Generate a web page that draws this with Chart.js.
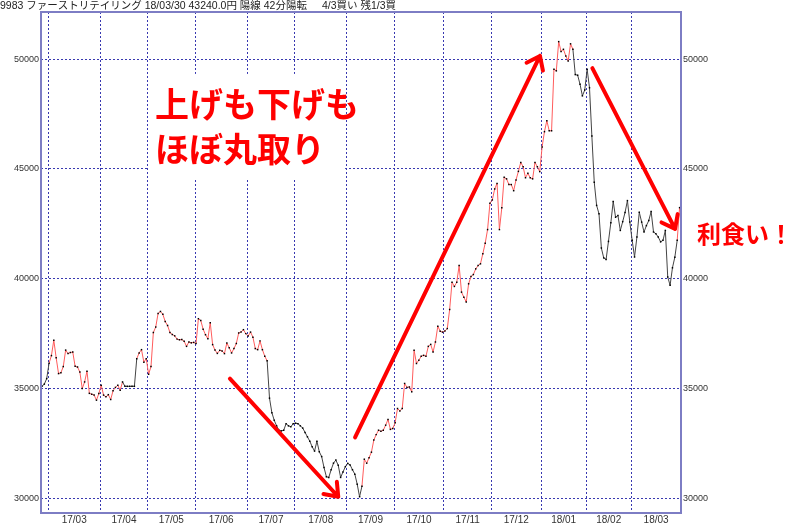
<!DOCTYPE html>
<html>
<head>
<meta charset="utf-8">
<script src="https://cdn.jsdelivr.net/npm/chart.js@4.4.1/dist/chart.umd.min.js"></script>
<style>
  html, body { margin: 0; padding: 0; background: #fff; }
</style>
</head>
<body>
<canvas id="chart" width="800" height="524"></canvas>
<script>
// daily closes, 2017/02/24 .. 2018/03/30 (one value per trading day)
const closes = [
  35100, 35200, 35450, 36150, 36500, 37200, 36400, 35680, 35720, 36000,
  36750, 36590, 36640, 36660, 36010, 35980, 35750, 35000, 35300, 35790,
  34780, 34740, 34700, 34470, 34770, 35150, 34700, 34620, 34720, 34500,
  34900, 35050, 35150, 34920, 35300, 35100, 35100, 35100, 35100, 35100,
  36360, 36620, 36770, 36200, 36360, 35650, 36000, 37550, 37800, 38420,
  38510, 38380, 38050, 37870, 37550, 37460, 37400, 37250, 37220, 37230,
  37150, 36920, 37120, 37080, 37100, 37050, 38180, 38100, 37700, 37450,
  37270, 38000, 37000, 36750, 36600, 36740, 36710, 36590, 37070, 36860,
  36620, 36820, 37050, 37530, 37570, 37680, 37500, 37390, 37570, 37340,
  36820, 36770, 37170, 36770, 36470, 36260, 34560, 33900, 33550, 33300,
  33100, 33070, 33100, 33400, 33300, 33260, 33400, 33420, 33400, 33300,
  33200, 33000, 32800, 32600, 32350, 32150, 32600, 32120, 31900, 31400,
  30980, 30950, 31300, 31600, 31740, 31500, 30950, 31200, 31440, 31590,
  31520, 31300, 31100, 30640, 30070, 30550, 31780, 31600, 31850, 32100,
  32650, 32900, 33100, 33050, 33100, 33330, 33590, 33140, 33180, 33440,
  34090, 33980, 34090, 35230, 35050, 35070, 34850, 36740, 36140, 36290,
  36470, 36510, 36470, 36920, 37010, 36660, 37120, 37840, 37610, 37570,
  37620, 37730, 38600, 39840, 39650, 39840, 40600, 39390, 39160, 38940,
  39770, 40100, 40190, 40450, 40600, 40680, 41140, 41620, 42240, 43440,
  43590, 44090, 44340, 42240, 43230, 44620, 44550, 44290, 44290, 44010,
  44500, 44890, 45300, 45100, 44600, 44800, 44600, 44550, 45300, 45100,
  44880, 46000, 46700, 47200, 46740, 46740, 49540, 49470, 50800, 50350,
  50450, 50150, 49920, 50700, 50450, 49300, 49270, 48860, 48330, 48600,
  49540, 48700, 46500, 44400, 43340, 42960, 41400, 40950, 40880, 41700,
  42550, 43520, 42800, 42880, 42200, 42600, 43020, 43560, 42580, 41750,
  40990, 41900, 43030, 42580, 42130, 42420, 42650, 43060, 42130, 42050,
  41900, 41680, 41750, 42200, 40080, 39700, 40500, 40980, 41750, 43240
];

// month labels and the index of each month's first trading day
const monthLabels = ['17/03', '17/04', '17/05', '17/06', '17/07', '17/08', '17/09',
  '17/10', '17/11', '17/12', '18/01', '18/02', '18/03'];
const monthStarts = [3, 25, 45, 65, 87, 107, 129, 149, 170, 190, 211, 230, 249];

// buy-signal stretches (segment start index ranges drawn in red)
const redRuns = [[3, 33], [40, 94], [135, 223], [268, 268]];

const yTicks = [30000, 35000, 40000, 45000, 50000];

const RED = '#ff5c5c';
const DARK = '#444';
const GRID = '#3838b0';
const FRAME = '#7d7dc4';

const xMin = -0.4;
const xMax = closes.length - 0.4;

// grid ticks at month starts, label ticks at mid-month
let xTicks = [];
monthStarts.forEach((s, i) => {
  let a = s - 0.4;
  let b = (i + 1 < monthStarts.length ? monthStarts[i + 1] : closes.length) - 0.4;
  xTicks.push({ value: a, label: '', grid: true });
  xTicks.push({ value: (a + b) / 2, label: monthLabels[i], grid: false });
});

function isRed(i) {
  return redRuns.some(r => i >= r[0] && i <= r[1]);
}

// annotations (in data units)
const arrows = [
  { from: [79.3, 35450], to: [125, 30070] },
  { from: [132.1, 32770], to: [210.1, 50150] },
  { from: [232.2, 49590], to: [267.1, 42270] }
];
const notes = [
  { text: '上げも下げも', at: [47.7, 47966], size: 34 },
  { text: 'ほぼ丸取り', at: [47.7, 45921], size: 34 },
  { text: '利食い！', at: [276.4, 42058], size: 24 }
];
const blankBox = { x0: 44.75, x1: 127.9, y0: 49330, y1: 44560 };

const annotate = {
  id: 'annotate',
  beforeDatasetsDraw(chart) {
    const ctx = chart.ctx, x = chart.scales.x, y = chart.scales.y;
    ctx.save();
    ctx.fillStyle = '#fff';
    let l = x.getPixelForValue(blankBox.x0), r = x.getPixelForValue(blankBox.x1);
    let t = y.getPixelForValue(blankBox.y0), b = y.getPixelForValue(blankBox.y1);
    ctx.fillRect(l, t, r - l, b - t);
    ctx.restore();
  },
  afterDatasetsDraw(chart) {
    const ctx = chart.ctx, x = chart.scales.x, y = chart.scales.y;
    const a = chart.chartArea;
    ctx.save();
    // frame
    ctx.strokeStyle = FRAME;
    ctx.lineWidth = 2;
    ctx.strokeRect(a.left, a.top, a.right - a.left, a.bottom - a.top);

    // arrows
    ctx.strokeStyle = '#ff0000';
    ctx.lineWidth = 4;
    ctx.lineCap = 'round';
    arrows.forEach(ar => {
      let x0 = x.getPixelForValue(ar.from[0]), y0 = y.getPixelForValue(ar.from[1]);
      let x1 = x.getPixelForValue(ar.to[0]), y1 = y.getPixelForValue(ar.to[1]);
      let back = Math.atan2(y0 - y1, x0 - x1);
      ctx.beginPath();
      ctx.moveTo(x0, y0);
      ctx.lineTo(x1, y1);
      [-0.65, 0.65].forEach(d => {
        ctx.moveTo(x1, y1);
        ctx.lineTo(x1 + 15 * Math.cos(back + d), y1 + 15 * Math.sin(back + d));
      });
      ctx.stroke();
    });

    // red notes
    ctx.fillStyle = '#ff0000';
    ctx.textAlign = 'left';
    ctx.textBaseline = 'middle';
    notes.forEach(n => {
      ctx.font = 'bold ' + n.size + 'px "Noto Sans CJK JP"';
      ctx.fillText(n.text, x.getPixelForValue(n.at[0]), y.getPixelForValue(n.at[1]));
    });

    // header line
    ctx.fillStyle = '#222';
    ctx.font = '10.5px "Liberation Sans", "Noto Sans CJK JP"';
    ctx.fillText('9983 ファーストリテイリング 18/03/30 43240.0円 陽線 42分陽転', 0, 6);
    ctx.fillText('4/3買い 残1/3買', 322, 6);
    ctx.restore();
  }
};

const tickFont = { family: 'Liberation Sans', size: 9 };

new Chart(document.getElementById('chart'), {
  type: 'line',
  data: {
    datasets: [{
      data: closes.map((v, i) => ({ x: i, y: v })),
      borderWidth: 1,
      borderColor: RED,
      segment: {
        borderColor: c => isRed(c.p0DataIndex) ? RED : DARK
      },
      pointStyle: 'rect',
      pointRadius: 1.05,
      pointBorderWidth: 0,
      pointBackgroundColor: '#000',
      tension: 0,
      yAxisID: 'y'
    }]
  },
  options: {
    responsive: false,
    animation: false,
    layout: { padding: { top: 12, left: 0, right: 0, bottom: 0 } },
    plugins: {
      legend: { display: false },
      tooltip: { enabled: false }
    },
    scales: {
      x: {
        type: 'linear',
        min: xMin,
        max: xMax,
        afterBuildTicks: s => { s.ticks = xTicks.map(t => ({ value: t.value })); },
        afterFit: s => { s.height = 11; },
        ticks: {
          autoSkip: false,
          maxRotation: 0,
          padding: 1,
          color: '#333',
          font: { family: 'Liberation Sans', size: 10 },
          callback: (v, i) => xTicks[i] ? xTicks[i].label : ''
        },
        grid: {
          drawTicks: false,
          color: c => (xTicks[c.index] && xTicks[c.index].grid) ? GRID : 'rgba(0,0,0,0)'
        },
        border: { display: false, dash: [2, 2] }
      },
      y: {
        position: 'left',
        min: 29330,
        max: 52150,
        afterBuildTicks: s => { s.ticks = yTicks.map(v => ({ value: v })); },
        afterFit: s => { s.width = 41; },
        ticks: { padding: 2, color: '#333', font: tickFont, callback: v => String(v) },
        grid: { drawTicks: false, color: GRID },
        border: { display: false, dash: [2, 2] }
      },
      y2: {
        position: 'right',
        min: 29330,
        max: 52150,
        afterBuildTicks: s => { s.ticks = yTicks.map(v => ({ value: v })); },
        afterFit: s => { s.width = 119; },
        ticks: { padding: 2, color: '#333', font: tickFont, callback: v => String(v) },
        grid: { display: false, drawTicks: false },
        border: { display: false }
      }
    }
  },
  plugins: [annotate]
});
</script>
</body>
</html>
